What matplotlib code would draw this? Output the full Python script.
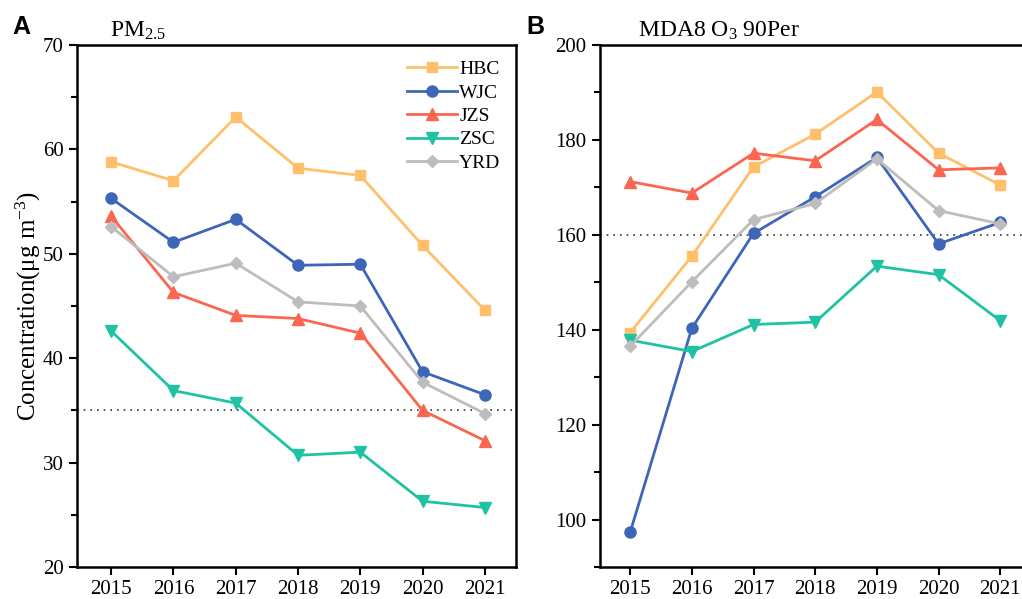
import matplotlib.pyplot as plt
from matplotlib.ticker import MultipleLocator

plt.rcParams["font.family"] = ["Liberation Serif", "DejaVu Serif"]
plt.rcParams["mathtext.fontset"] = "custom"
plt.rcParams["mathtext.rm"] = "Liberation Serif"
plt.rcParams["mathtext.it"] = "Liberation Serif:italic"

years = [2015, 2016, 2017, 2018, 2019, 2020, 2021]
regions = ["HBC", "WJC", "JZS", "ZSC", "YRD"]

pm25_hbc = [58.8, 57.0, 63.1, 58.2, 57.5, 50.8, 44.6]
pm25_wjc = [55.3, 51.1, 53.3, 48.9, 49.0, 38.7, 36.5]
pm25_jzs = [53.6, 46.3, 44.1, 43.8, 42.4, 35.0, 32.1]
pm25_zsc = [42.6, 36.9, 35.7, 30.7, 31.0, 26.3, 25.7]
pm25_yrd = [52.6, 47.8, 49.1, 45.4, 45.0, 37.7, 34.7]

o3_hbc = [139.4, 155.5, 174.3, 181.2, 190.1, 177.2, 170.5]
o3_wjc = [97.3, 140.3, 160.3, 168.0, 176.3, 158.1, 162.6]
o3_jzs = [171.2, 168.8, 177.2, 175.6, 184.3, 173.7, 174.1]
o3_zsc = [137.8, 135.4, 141.1, 141.6, 153.4, 151.6, 141.9]
o3_yrd = [136.5, 150.1, 163.2, 166.6, 176.0, 165.1, 162.3]

pm25_standard = 35
o3_standard = 160

colors = ["#FFBF6B", "#3E66B8", "#FA6650", "#1FC3A3", "#BDBDBD"]
markers = ["s", "o", "^", "v", "D"]
msizes = [7, 8, 8.5, 8.5, 6.5]

fig = plt.figure(figsize=(10.22, 5.99), dpi=100)
ax1 = fig.add_axes([0.0753, 0.0534, 0.4296, 0.8715])
ax2 = fig.add_axes([0.587, 0.0534, 0.44, 0.8715])

pm25 = [pm25_hbc, pm25_wjc, pm25_jzs, pm25_zsc, pm25_yrd]
o3 = [o3_hbc, o3_wjc, o3_jzs, o3_zsc, o3_yrd]

for i in range(len(regions)):
    ax1.plot(years, pm25[i], color=colors[i], marker=markers[i], ms=msizes[i],
             lw=2, label=regions[i])
    ax2.plot(years, o3[i], color=colors[i], marker=markers[i], ms=msizes[i],
             lw=2, label=regions[i])

ax1.axhline(pm25_standard, color="#333333", ls=(0, (1, 3)), lw=1.2, zorder=0)
ax2.axhline(o3_standard, color="#333333", ls=(0, (1, 3)), lw=1.2, zorder=0)

ax1.set_xlim(2014.45, 2021.5)
ax1.set_ylim(20, 70)
ax1.yaxis.set_major_locator(MultipleLocator(10))
ax1.yaxis.set_minor_locator(MultipleLocator(5))
ax2.set_xlim(2014.51, 2021.8)
ax2.set_ylim(90, 200)
ax2.yaxis.set_major_locator(MultipleLocator(20))
ax2.yaxis.set_minor_locator(MultipleLocator(10))

for ax in (ax1, ax2):
    ax.set_xticks(years)
    ax.tick_params(axis="both", which="major", direction="out", length=6,
                   width=1.5, labelsize=15)
    ax.tick_params(axis="y", which="minor", direction="out", length=4, width=1.5)
    for s in ax.spines.values():
        s.set_linewidth(1.8)

ax1.set_ylabel("Concentration(μg m$^{-3}$)", fontsize=18, labelpad=0)

ax1.text(0.075, 1.005, "PM$_{2.5}$", transform=ax1.transAxes, fontsize=17,
         ha="left", va="bottom")
ax2.text(0.085, 1.005, "MDA8 O$_3$ 90Per", transform=ax2.transAxes, fontsize=17,
         ha="left", va="bottom")

fig.text(0.012, 0.935, "A", fontsize=18, fontweight="bold",
         family="Liberation Sans", va="bottom")
fig.text(0.515, 0.935, "B", fontsize=18, fontweight="bold",
         family="Liberation Sans", va="bottom")

ax1.legend(loc="upper right", frameon=False, fontsize=14, handlelength=2.6,
           handletextpad=0.1, labelspacing=0.3, borderaxespad=0.4)

fig.savefig("out.png", dpi=100)
